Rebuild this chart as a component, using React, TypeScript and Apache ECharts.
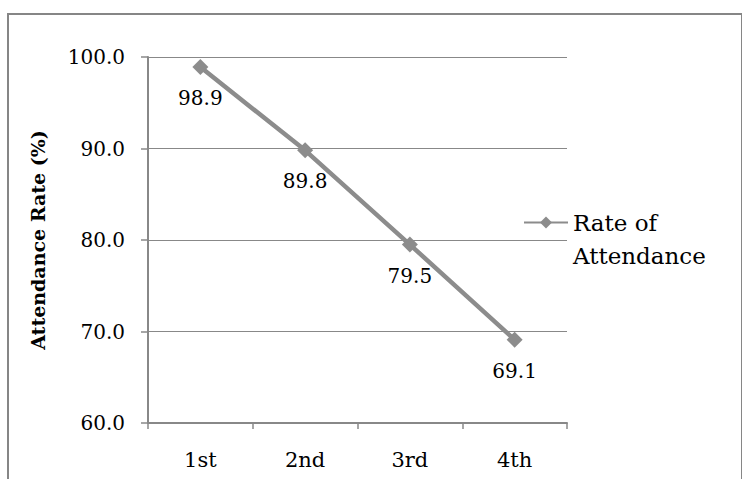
import React, { useEffect, useRef } from "react";
import * as echarts from "echarts";

const categories = ["1st", "2nd", "3rd", "4th"];
const attendance = [98.9, 89.8, 79.5, 69.1];
const seriesName = "Rate of Attendance";
const legendLines = ["Rate of", "Attendance"];
const yAxisTitle = "Attendance Rate (%)";

const FONT = "'DejaVu Serif', serif";
const GRAY = "#888888";

export default function App() {
  const ref = useRef<HTMLDivElement>(null);
  useEffect(() => {
    if (!ref.current) return;
    const chart = echarts.init(ref.current, undefined, { renderer: "svg" });
    chart.setOption({
      animation: false,
      backgroundColor: "#ffffff",
      graphic: [
        {
          type: "rect",
          shape: { x: 8, y: 14, width: 734, height: 480 },
          style: { fill: "none", stroke: "#868686", lineWidth: 2 },
          silent: true,
        },
      ],
      grid: { left: 148, right: 175, top: 57, bottom: 56, containLabel: false },
      legend: {
        left: 523,
        top: 173,
        padding: 0,
        itemWidth: 44,
        itemHeight: 15,
        data: [seriesName],
        formatter: () => "{e| }\n" + legendLines.join("\n"),
        textStyle: {
          fontFamily: FONT,
          fontSize: 23,
          lineHeight: 33,
          color: "#000",
          rich: { e: { fontSize: 23, lineHeight: 33 } },
        },
      },
      xAxis: {
        type: "category",
        data: categories,
        boundaryGap: true,
        axisLine: { show: true, lineStyle: { color: GRAY, width: 2 } },
        axisTick: { show: true, length: 6, interval: 0, lineStyle: { color: GRAY, width: 1.5 } },
        axisLabel: { margin: 26, fontFamily: FONT, fontSize: 21, color: "#000" },
        splitLine: { show: false },
      },
      yAxis: {
        type: "value",
        min: 60,
        max: 100,
        interval: 10,
        name: yAxisTitle,
        nameLocation: "middle",
        nameGap: 101,
        nameTextStyle: { fontFamily: FONT, fontSize: 19, fontWeight: "bold", color: "#000" },
        axisLine: { show: true, lineStyle: { color: GRAY, width: 2 } },
        axisTick: { show: true, length: 7, lineStyle: { color: GRAY, width: 1.5 } },
        axisLabel: {
          margin: 23,
          fontFamily: FONT,
          fontSize: 20,
          color: "#000",
          formatter: (v: number) => v.toFixed(1),
        },
        splitLine: { show: true, lineStyle: { color: GRAY, width: 1 } },
      },
      series: [
        {
          name: seriesName,
          type: "line",
          data: attendance,
          symbol: "diamond",
          symbolSize: 16,
          itemStyle: { color: "#8c8c8c" },
          lineStyle: { color: "#8c8c8c", width: 4.5 },
          label: {
            show: true,
            position: "bottom",
            distance: 13,
            fontFamily: FONT,
            fontSize: 20,
            color: "#000",
            formatter: (p: any) => Number(p.value).toFixed(1),
          },
        },
      ],
    });
    return () => chart.dispose();
  }, []);
  return (
    <div
      ref={ref}
      style={{ position: "fixed", left: 0, top: 0, width: 742, height: 479, background: "#fff" }}
    />
  );
}
